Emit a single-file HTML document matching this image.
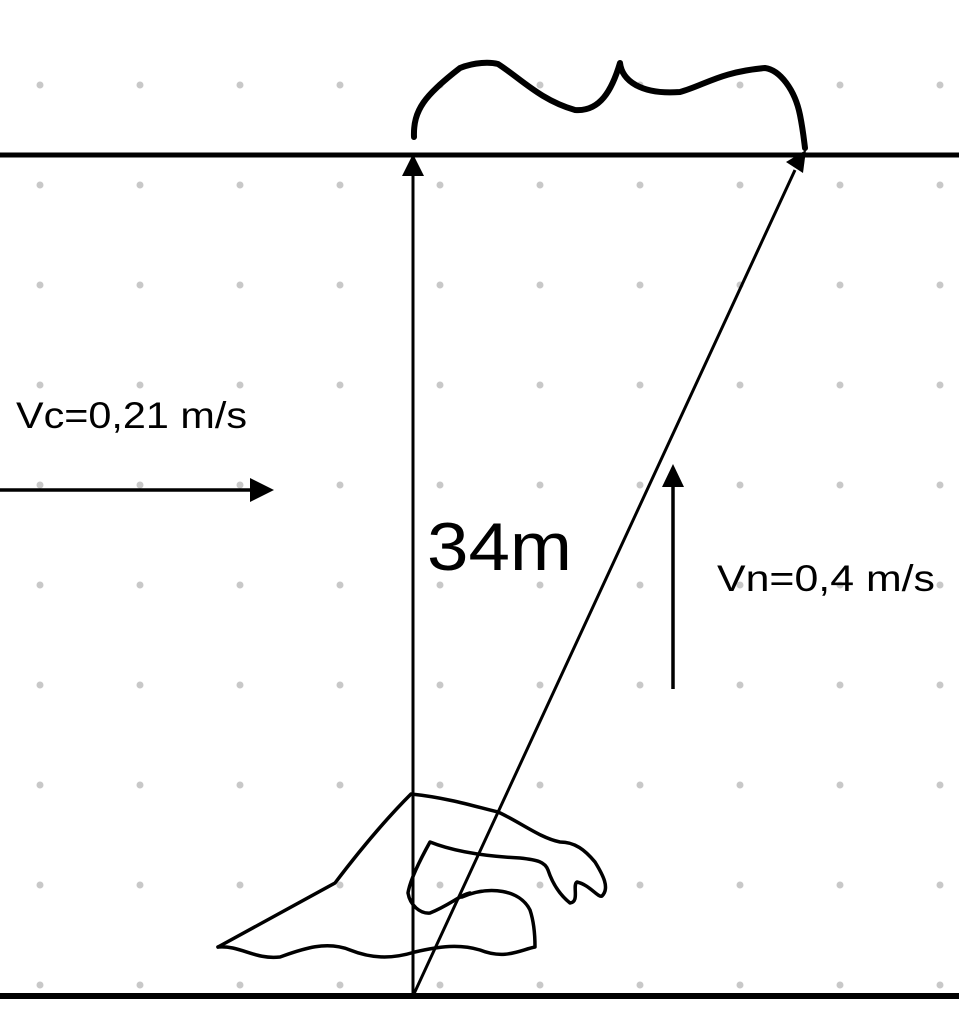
<!DOCTYPE html>
<html><head><meta charset="utf-8"><style>html,body{margin:0;padding:0;background:#fff}svg{display:block}</style></head>
<body>
<svg width="959" height="1024" viewBox="0 0 959 1024">
<defs>
<marker id="ah" viewBox="0 0 10 10" refX="9" refY="5" markerWidth="10" markerHeight="10" markerUnits="userSpaceOnUse" orient="auto"><path d="M0,0 L10,5 L0,10 z" fill="#000"/></marker>
</defs>
<g id="dots"></g>
<line x1="0" y1="155" x2="959" y2="155" stroke="#000" stroke-width="5"/>
<line x1="0" y1="996" x2="959" y2="996" stroke="#000" stroke-width="6"/>
<line x1="413" y1="996" x2="413" y2="176" stroke="#000" stroke-width="3"/>
<path d="M402,176 L413,154 L424,176 z" fill="#000"/>
<line x1="413" y1="996" x2="795" y2="170" stroke="#000" stroke-width="3"/>
<path d="M786,162 L806,150 L803,173 z" fill="#000"/>
<line x1="0" y1="490" x2="252" y2="490" stroke="#000" stroke-width="3.5"/>
<path d="M250,478 L274,490 L250,502 z" fill="#000"/>
<line x1="673" y1="689" x2="673" y2="486" stroke="#000" stroke-width="3.5"/>
<path d="M662,487 L673,464 L684,487 z" fill="#000"/>
<path d="M414,137 C413,110 425,95 460,68 C475,62 490,62 498,64 C520,78 540,100 575,110 C600,112 612,90 620,63 C622,80 640,95 680,92 C705,85 720,72 765,68 C780,70 795,90 800,115 C803,130 804,140 805,148" fill="none" stroke="#000" stroke-width="6" stroke-linecap="round" stroke-linejoin="round"/>
<g fill="none" stroke="#000" stroke-width="3.5" stroke-linejoin="round" stroke-linecap="round">
<path d="M218,947 L335,883 C360,850 385,820 411,794 C450,798 480,808 498,812 C520,822 540,838 560,842 C575,842 585,850 595,862 C603,875 610,888 602,896 C598,898 590,885 577,882 C572,885 580,902 570,903 C560,895 553,885 548,870 C545,862 538,860 520,858 C480,856 450,850 430,842 C420,860 410,880 408,893 C410,905 420,914 430,913 C450,905 460,895 470,893"/>
<path d="M462,897 C490,885 520,890 530,910 C535,925 535,940 535,947 C520,950 505,960 480,950 C460,944 440,946 415,952 C395,958 375,960 350,950 C325,940 300,950 280,957 C255,960 240,945 218,947"/>
</g>
<text x="16" y="428" font-family="Liberation Sans, sans-serif" font-size="37" textLength="231" lengthAdjust="spacingAndGlyphs">Vc=0,21 m/s</text>
<text x="427" y="570" font-family="Liberation Sans, sans-serif" font-size="68" textLength="145" lengthAdjust="spacingAndGlyphs">34m</text>
<text x="717" y="591" font-family="Liberation Sans, sans-serif" font-size="37" textLength="218" lengthAdjust="spacingAndGlyphs">Vn=0,4 m/s</text>
</svg>
<script>
const g=document.getElementById('dots');
for(let y=85;y<1024;y+=100){for(let x=40;x<959;x+=100){
const c=document.createElementNS('http://www.w3.org/2000/svg','circle');
c.setAttribute('cx',x);c.setAttribute('cy',y);c.setAttribute('r',3.5);c.setAttribute('fill','#c8c8c8');


g.appendChild(c);}}
</script>
</body></html>
